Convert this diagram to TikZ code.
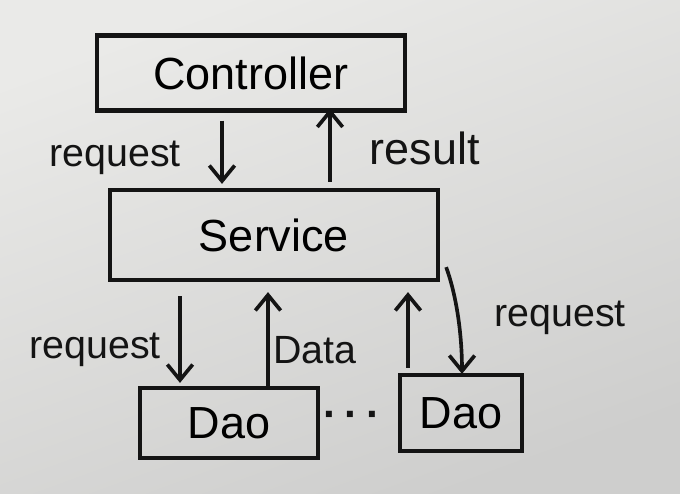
\documentclass[tikz,border=0pt]{standalone}
\usepackage{fontspec}
\setmainfont{Liberation Sans}
\usepackage{tikz}
\usetikzlibrary{positioning,calc,arrows.meta}
\tikzstyle{sketch} = [x = .025cm, y = -.025cm]
\definecolor{paperLight}{RGB}{234,234,232}
\definecolor{paperDark}{RGB}{206,206,205}
\definecolor{inkColor}{RGB}{20,20,20}
\tikzstyle{layerBox} = [draw=inkColor, line width=3pt, inner sep=0pt, font=\fontsize{32}{36}\selectfont]
\tikzstyle{arrowLabel} = [inner sep=1pt, text=inkColor, font=\fontsize{28}{32}\selectfont]
\tikzstyle{callArrow} = [draw=inkColor, line width=2.6pt, -{Straight Barb[length=11pt, width=18pt, line width=2.6pt]}]
\newcommand{\paper}{\shade [top color=paperLight, bottom color=paperDark, shading angle=20] (0,0) rectangle (680,494);}

\begin{document}
\begin{tikzpicture}[sketch]
    \paper
    \useasboundingbox (0,0) rectangle (680,494);
    % layers
    \node [layerBox, minimum width=7.7cm, minimum height=1.875cm] (ctrl) at (251,73) {Controller};
    \node [layerBox, minimum width=8.2cm, minimum height=2.25cm] (srv) at (274,235) {Service};
    \node [layerBox, minimum width=4.45cm, minimum height=1.75cm] (daoLeft) at (229,423) {Dao};
    \node [layerBox, minimum width=3.05cm, minimum height=1.9cm] (daoRight) at (461,413) {Dao};
    \node [arrowLabel, font=\fontsize{30}{34}\selectfont\bfseries] (dots) at (352,420) {·\,·\,·};
    % calls
    \draw [callArrow] ($(ctrl.south)+(-29,8)$) -- ($(srv.north)+(-52,-4)$);
    \draw [callArrow] ($(srv.north)+(56,-6)$) -- ($(ctrl.south)+(79,-4)$);
    \draw [callArrow] ($(srv.south)+(-94,14)$) -- ($(daoLeft.north)+(-49,-3)$);
    \draw [callArrow] ($(daoLeft.north)+(39,0)$) -- ($(srv.south)+(-6,10)$);
    \draw [callArrow] ($(daoRight.north)+(-53,-5)$) -- ($(srv.south)+(134,10)$);
    \draw [callArrow] ($(srv.south east)+(6,-15)$) .. controls (458,300) and (462,340) .. ($(daoRight.north)+(1,1)$);
    % labels
    \node [arrowLabel] (reqTop) at (115,158) {request};
    \node [arrowLabel, font=\fontsize{32}{36}\selectfont] (result) at (425,148) {result};
    \node [arrowLabel] (reqLeft) at (95,350) {request};
    \node [arrowLabel] (data) at (315,350) {Data};
    \node [arrowLabel] (reqRight) at (560,318) {request};
\end{tikzpicture}
\end{document}
